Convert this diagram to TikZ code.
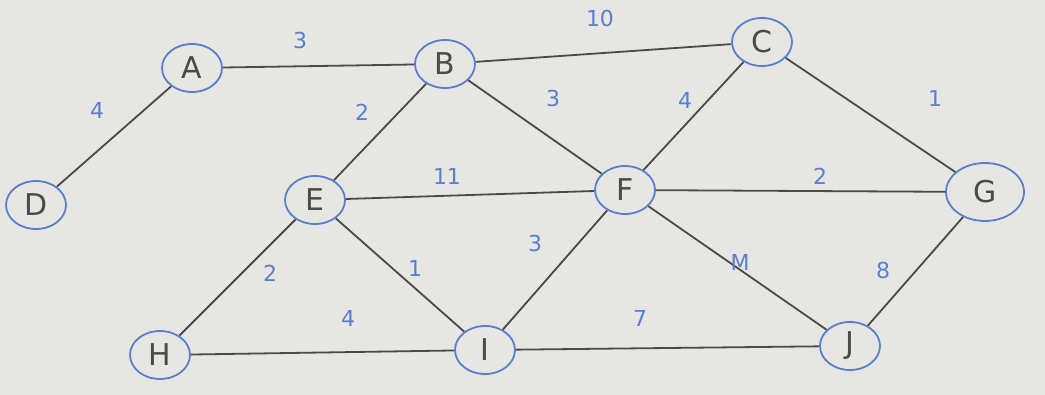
\documentclass[tikz,border=0pt]{standalone}
\usepackage{fontspec}
\setmainfont{DejaVu Sans}
\usetikzlibrary{shapes.geometric}
\definecolor{ink}{HTML}{5B7FCF}
\definecolor{pencil}{HTML}{4A4A4A}
\definecolor{paper}{HTML}{E6E6E3}
\tikzset{
  vert/.style={ellipse, draw=ink, line width=1.8pt, text=pencil, inner sep=0pt,
    minimum width=60pt, minimum height=48pt, font=\fontsize{30}{32}\selectfont},
  edge/.style={draw=pencil, line width=1.8pt},
  wt/.style={text=ink, font=\fontsize{22}{24}\selectfont, inner sep=0pt}
}
\begin{document}
\begin{tikzpicture}[x=1pt,y=-1pt]
\fill[paper] (0,0) rectangle (1045,395);
\useasboundingbox (0,0) rectangle (1045,395);
\node[vert] (A) at (192,68) {A};
\node[vert] (B) at (445,64) {B};
\node[vert] (C) at (762,42) {C};
\node[vert] (D) at (36,205) {D};
\node[vert] (E) at (315,200) {E};
\node[vert] (F) at (625,190) {F};
\node[vert, minimum width=78pt, minimum height=58pt] (G) at (985,192) {G};
\node[vert] (H) at (160,355) {H};
\node[vert] (I) at (485,350) {I};
\node[vert] (J) at (850,346) {J};
\draw[edge] (A) -- (B);
\draw[edge] (A) -- (D);
\draw[edge] (B) -- (C);
\draw[edge] (B) -- (E);
\draw[edge] (B) -- (F);
\draw[edge] (C) -- (F);
\draw[edge] (C) -- (G);
\draw[edge] (E) -- (F);
\draw[edge] (F) -- (G);
\draw[edge] (E) -- (H);
\draw[edge] (E) -- (I);
\draw[edge] (F) -- (I);
\draw[edge] (F) -- (J);
\draw[edge] (J) -- (G);
\draw[edge] (H) -- (I);
\draw[edge] (I) -- (J);
\node[wt] (wAB) at (300,40) {3};
\node[wt] (wBC) at (600,18) {10};
\node[wt] (wAD) at (97,110) {4};
\node[wt] (wBE) at (362,112) {2};
\node[wt] (wBF) at (553,98) {3};
\node[wt] (wCF) at (685,100) {4};
\node[wt] (wCG) at (935,98) {1};
\node[wt] (wEF) at (447,176) {11};
\node[wt] (wFG) at (820,176) {2};
\node[wt] (wEH) at (270,273) {2};
\node[wt] (wEI) at (415,268) {1};
\node[wt] (wFI) at (535,243) {3};
\node[wt] (wFJ) at (740,262) {M};
\node[wt] (wJG) at (883,270) {8};
\node[wt] (wHI) at (348,318) {4};
\node[wt] (wIJ) at (640,318) {7};
\end{tikzpicture}
\end{document}
